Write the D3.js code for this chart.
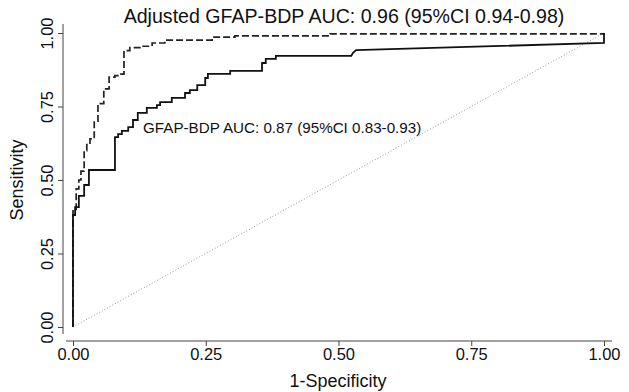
<!DOCTYPE html>
<html><head><meta charset="utf-8">
<script src="https://cdn.jsdelivr.net/npm/d3@7"></script>
<style>body{margin:0;background:#fff}svg{display:block}text{font-family:"Liberation Sans",Arial,sans-serif;fill:#111}</style>
</head><body>
<svg id="c" width="629" height="392"></svg>
<script>
// Tick values
const xTicks = [0, 0.25, 0.5, 0.75, 1];
const yTicks = [0, 0.25, 0.5, 0.75, 1];
// Unadjusted GFAP-BDP ROC (1-specificity, sensitivity)
const solidFpr = [0,0,0.004,0.004,0.011,0.011,0.021,0.021,0.030,0.030,0.079,0.079,0.085,0.085,0.092,0.092,0.104,0.104,0.113,0.113,0.122,0.122,0.139,0.139,0.158,0.158,0.164,0.164,0.186,0.186,0.211,0.211,0.220,0.220,0.234,0.234,0.249,0.249,0.254,0.254,0.296,0.296,0.356,0.356,0.363,0.363,0.382,0.382,0.524,0.527,0.533,1.0,1.0];
const solidTpr = [0,0.381,0.381,0.408,0.408,0.446,0.446,0.483,0.483,0.534,0.534,0.646,0.646,0.656,0.656,0.667,0.667,0.680,0.680,0.704,0.704,0.728,0.728,0.745,0.745,0.755,0.755,0.765,0.765,0.779,0.779,0.796,0.796,0.806,0.806,0.823,0.823,0.847,0.847,0.861,0.861,0.871,0.871,0.898,0.898,0.912,0.912,0.922,0.922,0.932,0.942,0.966,1.0];
// Adjusted GFAP-BDP ROC
const dashFpr = [0,0,0.006,0.006,0.011,0.011,0.015,0.015,0.021,0.021,0.026,0.026,0.032,0.032,0.040,0.040,0.047,0.047,0.058,0.058,0.068,0.068,0.079,0.079,0.090,0.090,0.096,0.096,0.107,0.107,0.126,0.126,0.149,0.149,0.173,0.173,0.262,0.262,0.305,0.305,0.484,0.484,1.0,1.0];
const dashTpr = [0,0.40,0.40,0.47,0.47,0.50,0.50,0.53,0.53,0.60,0.60,0.62,0.62,0.64,0.64,0.70,0.70,0.76,0.76,0.81,0.81,0.85,0.85,0.855,0.855,0.86,0.86,0.94,0.94,0.95,0.95,0.955,0.955,0.966,0.966,0.976,0.976,0.986,0.986,0.99,0.99,0.997,0.997,1.0];
const titleText = "Adjusted GFAP-BDP AUC: 0.96 (95%CI 0.94-0.98)";
const noteText = "GFAP-BDP AUC: 0.87 (95%CI 0.83-0.93)";

const svg = d3.select("#c");
const x = d3.scaleLinear().domain([0,1]).range([73,604]);
const y = d3.scaleLinear().domain([0,1]).range([327,33]);
const fmt = d3.format(".2f");
const FONT = "Liberation Sans, Arial, sans-serif";

// axes
const xAxisY = 341, yAxisX = 63;
const gx = svg.append("g").attr("transform",`translate(0,${xAxisY})`)
  .call(d3.axisBottom(x).tickValues(xTicks).tickFormat(fmt).tickSize(5).tickPadding(2));
gx.select(".domain").remove();
gx.append("line").attr("x1",66).attr("x2",612).attr("stroke","#444");
gx.selectAll(".tick line").attr("stroke","#444");
gx.selectAll(".tick text").style("font-size","16.5px").attr("fill","#111").style("font-family",FONT);

const gy = svg.append("g").attr("transform",`translate(${yAxisX},0)`)
  .call(d3.axisLeft(y).tickValues(yTicks).tickFormat(fmt).tickSize(5).tickPadding(3));
gy.select(".domain").remove();
gy.append("line").attr("y1",24).attr("y2",334).attr("stroke","#444");
gy.selectAll(".tick line").attr("stroke","#444");
gy.selectAll(".tick text").style("font-size","16.5px").attr("fill","#111")
  .style("font-family",FONT)
  .attr("x",null).attr("dy",null)
  .attr("text-anchor","middle")
  .attr("transform","translate(-10,0) rotate(-90)");

svg.append("text").attr("x",0).attr("y",0).attr("text-anchor","middle")
  .attr("transform","translate(23,180) rotate(-90)").style("font-size","18px").text("Sensitivity");
svg.append("text").attr("x",338).attr("y",387).attr("text-anchor","middle")
  .style("font-size","18px").text("1-Specificity");

// diagonal
svg.append("line").attr("x1",x(0)).attr("y1",y(0)).attr("x2",x(1)).attr("y2",y(1))
  .attr("stroke","#999").attr("stroke-width",1).attr("stroke-dasharray","1,2");

const line = d3.line().x(d=>x(d[0])).y(d=>y(d[1]));
const solid = solidFpr.map((f,i)=>[f,solidTpr[i]]);
const dash = dashFpr.map((f,i)=>[f,dashTpr[i]]);
svg.append("path").attr("d",line(dash)).attr("fill","none").attr("stroke","#222")
  .attr("stroke-width",1.7).attr("stroke-dasharray","7,3");
svg.append("path").attr("d",line(solid)).attr("fill","none").attr("stroke","#111")
  .attr("stroke-width",1.8);

svg.append("text").attr("x",344).attr("y",23).attr("text-anchor","middle")
  .style("font-size","19.6px").text(titleText);
svg.append("text").attr("x",143).attr("y",133)
  .style("font-size","15.2px").text(noteText);
</script>
</body></html>
